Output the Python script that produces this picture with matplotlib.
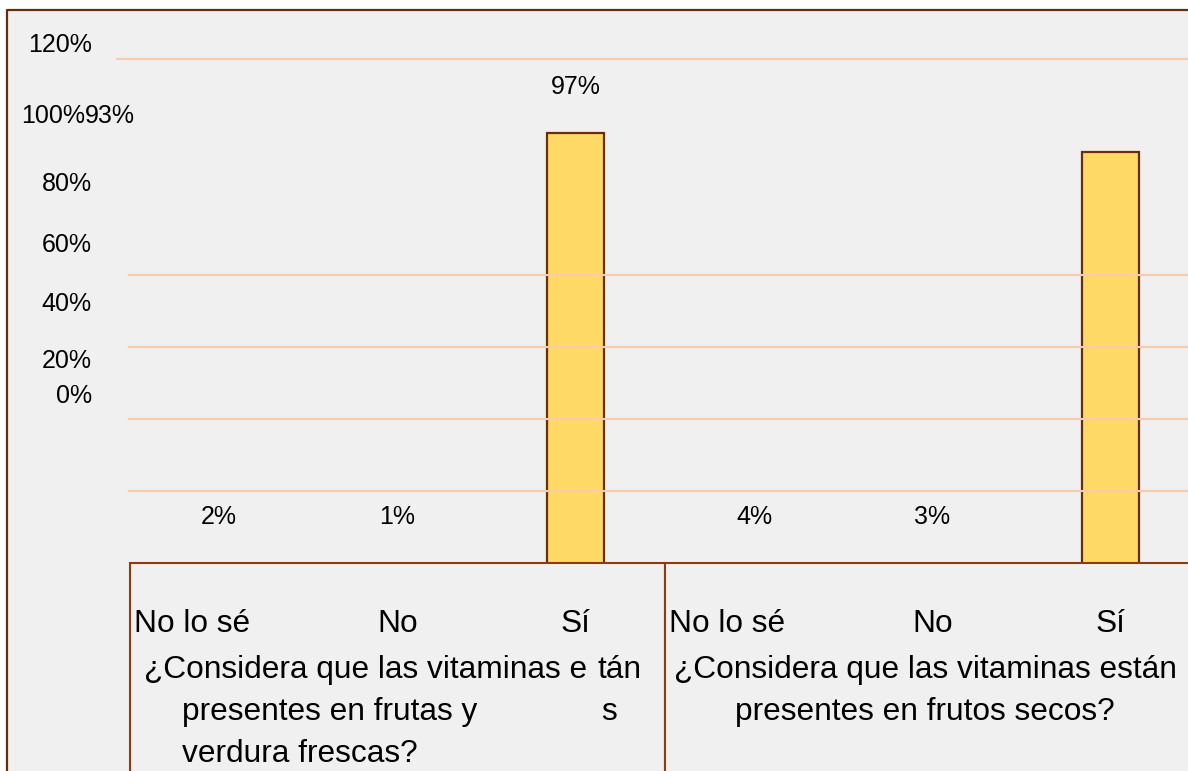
import matplotlib.pyplot as plt
from matplotlib.patches import Rectangle
from matplotlib.lines import Line2D

W, H, DPI = 1188, 771, 100

plt.rcParams['font.family'] = ['Liberation Sans', 'DejaVu Sans']

# survey answers, two questions with three answers each
categories = ["No lo sé", "No", "Sí", "No lo sé", "No", "Sí"]
values = [2, 1, 97, 4, 3, 93]
y_labels = ["120%", "100%", "80%", "60%", "40%", "20%", "0%"]
y_label_rows = [45, 116, 184, 245, 304, 361, 396]
grid_levels = [20, 40, 60, 80, 140]
question_2 = ["¿Considera que las vitaminas están", "presentes en frutos secos?"]
# first question comes out of the layout in broken pieces
question_1_pieces = [
    ("¿Considera que las vitaminas e", 144, 678),
    ("tán", 597, 678),
    ("presentes en frutas y", 182, 720),
    ("s", 601, 720),
    ("verdura frescas?", 182, 762),
]

BG = '#f0f0f0'
FRAME = '#6b2c0b'
BOX = '#8b3c10'
BAR = '#ffd966'
GRID = '#f8cbad'

BAR_TOP, BAR_BASE, TABLE_TOP = 10, 586, 563
YMAX = 123.3


def box(x0, y_top, x1, y_bottom):
    return [x0 / W, 1 - y_bottom / H, (x1 - x0) / W, (y_bottom - y_top) / H]


def px(x, y):
    return x / W, 1 - y / H


fig = plt.figure(figsize=(W / DPI, H / DPI), dpi=DPI, facecolor='white')

# grey chart area with the brown frame (left and top edges only show)
fig.patches.append(Rectangle(px(7, 900), 1.5, (900 - 10) / H, transform=fig.transFigure,
                             facecolor=BG, edgecolor='none', zorder=0))
fx, fy = px(7, 10)
fig.lines.append(Line2D([fx, fx, 1.01], [-0.01, fy, fy], transform=fig.transFigure,
                        color=FRAME, lw=1.6, zorder=0.5))

# bars
ax = fig.add_axes(box(130, BAR_TOP, 1200, BAR_BASE))
ax.set_zorder(2)
ax.patch.set_visible(False)
ax.set_xlim(-0.5, len(values) - 0.5)
ax.set_ylim(0, YMAX)
ax.axis('off')
xs = range(len(values))
ax.bar(xs, values, width=0.32, color=BAR, edgecolor=FRAME, lw=1.6)

# value where the category table cuts the bars off
table_level = YMAX * (BAR_BASE - TABLE_TOP) / (BAR_BASE - BAR_TOP)
for i, v in enumerate(values):
    if i == len(values) - 1:
        ax.annotate(f"{v}%", (i, v), xytext=(85, H - 116), textcoords='figure pixels',
                    ha='left', va='center', fontsize=18, annotation_clip=False)
    else:
        ax.annotate(f"{v}%", (i, max(v, table_level)), xytext=(0, 33), textcoords='offset points',
                    ha='center', va='center', fontsize=18)

# gridlines sit on top of the bars
gax = fig.add_axes(box(117, 59, 1200, 563))
gax.set_zorder(3)
gax.patch.set_visible(False)
gax.set_xlim(0, 1)
gax.set_ylim(0, 140)
gax.axis('off')
for lv in grid_levels:
    gax.axhline(lv, xmin=0 if lv == 140 else 12 / 1083, color=GRID, lw=1.5, clip_on=False)

# category table below the plot
tax = fig.add_axes(box(130, TABLE_TOP, 1200, 800))
tax.set_zorder(4)
tax.patch.set_visible(False)
tax.set_xlim(-0.5, len(values) - 0.5)
tax.set_ylim(237, 0)
tax.axis('off')
for g in range(2):
    tax.add_patch(Rectangle((g * 3 - 0.5, 0), 3, 300, facecolor=BG, edgecolor=BOX,
                            lw=1.5, clip_on=False))
for i, c in enumerate(categories):
    if i % 3 == 0:
        tax.text(i - 0.5 + 4 / 178.3, 69, c, ha='left', va='baseline', fontsize=22.8)
    else:
        tax.text(i, 69, c, ha='center', va='baseline', fontsize=22.8)

for s, x, y in question_1_pieces:
    fig.text(*px(x, y), s, ha='left', va='baseline', fontsize=22.8, zorder=5)
for k, line in enumerate(question_2):
    fig.text(*px(925, 678 + 42 * k), line, ha='center', va='baseline', fontsize=22.8, zorder=5)

# left-hand percentage scale
for lab, row in zip(y_labels, y_label_rows):
    right = 85 if lab == "100%" else 92
    fig.text(*px(right, row), lab, ha='right', va='center', fontsize=18, zorder=5)

fig.savefig('out.png', dpi=DPI, facecolor='white')
